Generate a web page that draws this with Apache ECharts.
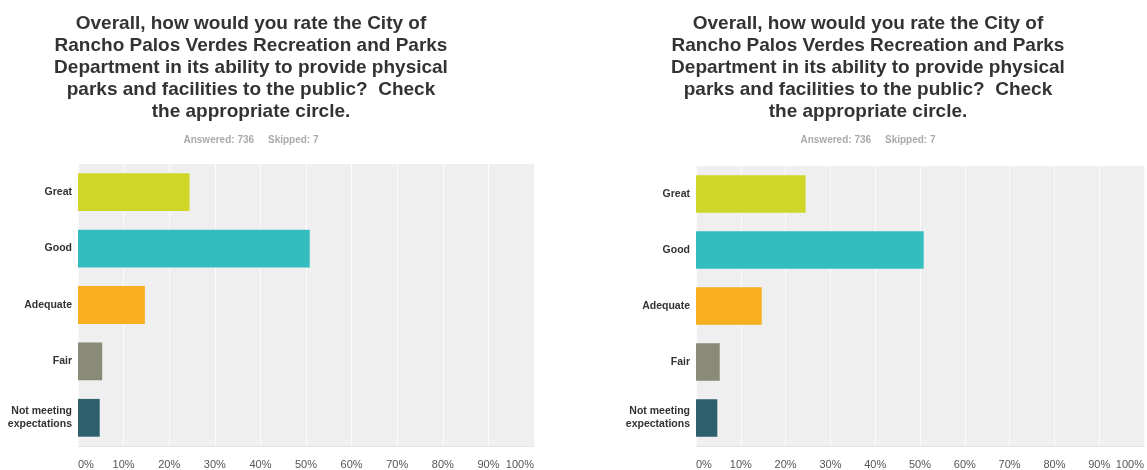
<!DOCTYPE html>
<html>
<head>
<meta charset="utf-8">
<script src="https://cdn.jsdelivr.net/npm/echarts@6/dist/echarts.min.js"></script>
<style>
html,body{margin:0;padding:0;background:#fff;}
#chart{width:1147px;height:470px;}
</style>
</head>
<body>
<div id="chart"></div>
<script>
// ---- data ----
const titleText = 'Overall, how would you rate the City of\nRancho Palos Verdes Recreation and Parks\nDepartment in its ability to provide physical\nparks and facilities to the public?  Check\nthe appropriate circle.';
const subText = 'Answered: 736     Skipped: 7';
const categories = ['Great', 'Good', 'Adequate', 'Fair', 'Not meeting\nexpectations'];
const percentValues = [24.46, 50.82, 14.67, 5.30, 4.76];
const tickValues = [0, 10, 20, 30, 40, 50, 60, 70, 80, 90, 100];

// ---- style ----
const barColors = ['#cfd628', '#33bdbe', '#f7ae1f', '#898a78', '#2d5f6d'];
const FONT = '"Liberation Sans", Arial, sans-serif';

const panels = [
  { cx: 251, grid: { left: 78, right: 613, top: 164, bottom: 23 } },
  { cx: 868, grid: { left: 696, right: 0, top: 166, bottom: 23 } }
];

const option = { animation: false, title: [], grid: [], xAxis: [], yAxis: [], series: [] };

panels.forEach((p, i) => {
  option.title.push({
    text: titleText,
    left: p.cx, top: 13, padding: 0, textAlign: 'center',
    textStyle: { fontFamily: FONT, fontSize: 19, fontWeight: 'bold', color: '#333333', lineHeight: 22 }
  });
  option.title.push({
    text: subText,
    left: p.cx, top: 134, padding: 0, textAlign: 'center',
    textStyle: { fontFamily: FONT, fontSize: 10, fontWeight: 'bold', color: '#aaaaaa', lineHeight: 13 }
  });
  option.grid.push(Object.assign({
    show: true, backgroundColor: '#efefef', borderWidth: 0, containLabel: false
  }, p.grid));
  option.xAxis.push({
    type: 'value', gridIndex: i, min: tickValues[0], max: tickValues[tickValues.length - 1],
    interval: tickValues[1] - tickValues[0],
    axisLine: { show: true, lineStyle: { color: '#e4e4e4', width: 1 } },
    axisTick: { show: false },
    splitLine: { show: true, lineStyle: { color: '#fbfbfb', width: 1 } },
    axisLabel: {
      formatter: '{value}%', margin: 13, color: '#555555', fontFamily: FONT, fontSize: 11,
      alignMinLabel: 'left', alignMaxLabel: 'right'
    }
  });
  option.yAxis.push({
    type: 'category', gridIndex: i, data: categories, inverse: true,
    axisLine: { show: false }, axisTick: { show: false },
    axisLabel: { margin: 6, color: '#333333', fontFamily: FONT, fontSize: 10.5, fontWeight: 'bold', lineHeight: 13, align: 'right' }
  });
  option.series.push({
    type: 'bar', xAxisIndex: i, yAxisIndex: i,
    barCategoryGap: '33%',
    data: percentValues.map((v, k) => ({ value: v, itemStyle: { color: barColors[k] } })),
    itemStyle: { borderWidth: 0 }
  });
});

const chart = echarts.init(document.getElementById('chart'), null, { renderer: 'canvas' });
chart.setOption(option);
</script>
</body>
</html>
